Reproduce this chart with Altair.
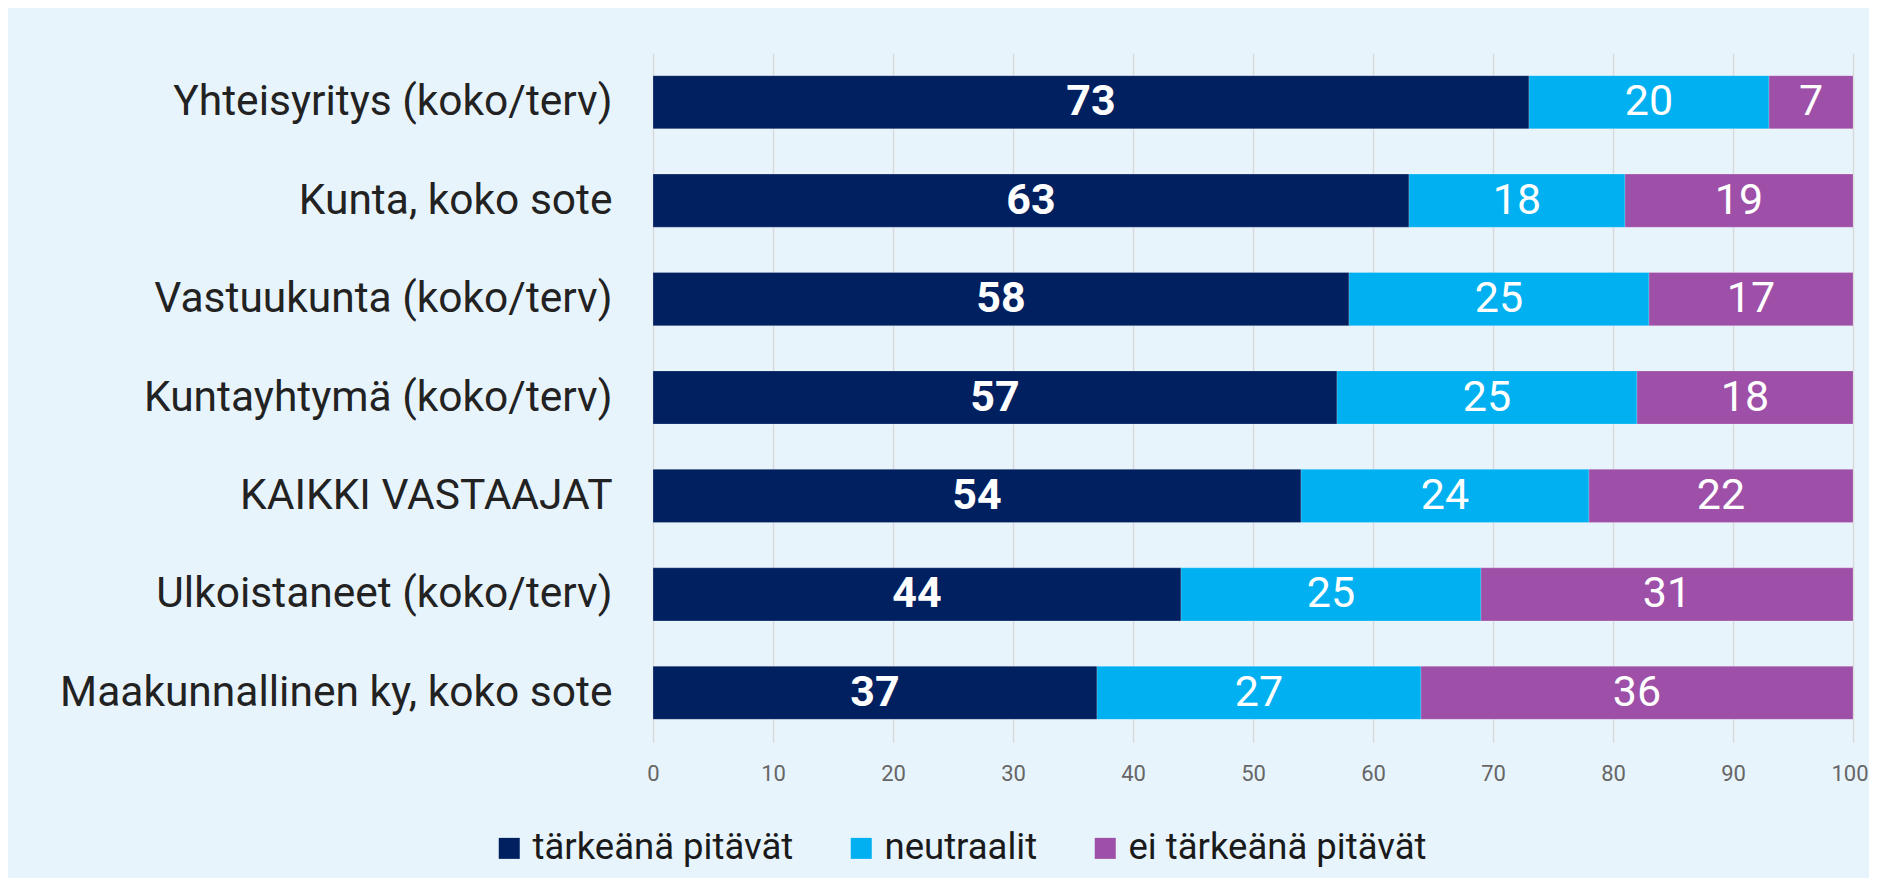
import altair as alt
import pandas as pd

categories = [
    "Yhteisyritys (koko/terv)",
    "Kunta, koko sote",
    "Vastuukunta (koko/terv)",
    "Kuntayhtymä (koko/terv)",
    "KAIKKI VASTAAJAT\u00a0",
    "Ulkoistaneet (koko/terv)",
    "Maakunnallinen ky, koko sote",
]
series = ["tärkeänä pitävät", "neutraalit", "ei tärkeänä pitävät"]
tarkea = [73, 63, 58, 57, 54, 44, 37]
neutraali = [20, 18, 25, 25, 24, 25, 27]
ei_tarkea = [7, 19, 17, 18, 22, 31, 36]
colors = ["#002060", "#00B0F0", "#9E4FA8"]
x_ticks = [0, 10, 20, 30, 40, 50, 60, 70, 80, 90, 100]

rows = []
for i, c in enumerate(categories):
    for j, (s, vals) in enumerate(zip(series, [tarkea, neutraali, ei_tarkea])):
        rows.append({"cat": c, "series": s, "order": j, "value": vals[i]})
df = pd.DataFrame(rows)

FONT = "Roboto"
W, H = 1200, 689
PAD_L, PAD_T = 645, 45
TOTAL_W, TOTAL_H = 1861, 870

y_enc = alt.Y(
    "cat:N",
    sort=categories,
    scale=alt.Scale(paddingInner=0.46, paddingOuter=0.23),
    axis=alt.Axis(
        title=None, domain=False, ticks=False, grid=False,
        labelFont=FONT, labelFontSize=42.5, labelColor="#222222",
        labelPadding=41, labelLimit=800,
    ),
)

base = alt.Chart(df).transform_stack(
    stack="value", groupby=["cat"], as_=["x0", "x1"],
    sort=[alt.SortField("order", order="ascending")],
).transform_calculate(mid="(datum.x0 + datum.x1) / 2")

bars = base.mark_bar(stroke="#ffffff", strokeWidth=0.6, strokeOpacity=0.35).encode(
    y=y_enc,
    x=alt.X(
        "x0:Q",
        scale=alt.Scale(domain=[0, 100], nice=False),
        axis=alt.Axis(
            title=None, values=x_ticks, format="d", domain=False, ticks=False,
            grid=True, gridColor="#d9d9d9", gridWidth=1.5,
            labelFont=FONT, labelFontSize=22, labelColor="#666666",
            labelPadding=21, labelFlush=False,
            labelAlign={"condition": {"test": "datum.value === 100", "value": "right"}, "value": "center"},
            labelOffset={"condition": {"test": "datum.value === 100", "value": 15}, "value": 0},
        ),
    ),
    x2="x1:Q",
    color=alt.Color(
        "series:N",
        scale=alt.Scale(domain=series, range=colors),
        legend=alt.Legend(
            title=None, orient="none", direction="horizontal",
            legendX=-162, legendY=777, padding=0,
            symbolType="square", symbolSize=441, symbolStrokeWidth=0,
            symbolOpacity=1,
            labelFont=FONT, labelFontSize=36.5, labelColor="#1a1a1a",
            labelOffset=5, columnPadding=49, labelLimit=600,
        ),
    ),
    order=alt.Order("order:Q"),
)

text_bold = base.transform_filter(alt.datum.order == 0).mark_text(
    font=FONT, fontSize=43, fontWeight="bold", color="white", baseline="middle", align="center"
).encode(y=alt.Y("cat:N", sort=categories), x=alt.X("mid:Q"), text="value:Q")

text_reg = base.transform_filter(alt.datum.order > 0).mark_text(
    font=FONT, fontSize=43, color="white", baseline="middle", align="center"
).encode(y=alt.Y("cat:N", sort=categories), x=alt.X("mid:Q"), text="value:Q")

chart = alt.layer(bars, text_bold, text_reg).properties(
    width=W, height=H,
    background="#E8F4FC",
    autosize=alt.AutoSizeParams(type="none"),
    padding={"left": PAD_L, "top": PAD_T, "right": TOTAL_W - PAD_L - W, "bottom": TOTAL_H - PAD_T - H},
).configure_view(stroke=None)

chart.save("out.html", embed_options={"renderer": "svg", "actions": False})
